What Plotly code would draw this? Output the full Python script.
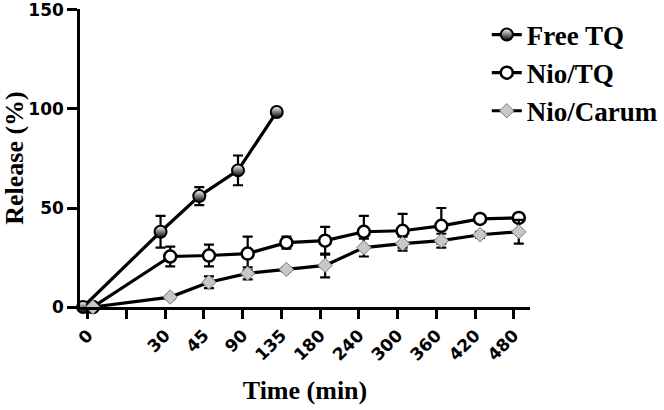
import plotly.graph_objects as go

times = ["0", "30", "45", "90", "135", "180", "240", "300", "360", "420", "480"]

free_tq = [0, 38, 56, 69, 98.5]
free_tq_err = [0, 8, 4.5, 7.5, 1]

nio_tq = [0, 25.5, 26, 27, 32.5, 33.5, 38, 38.5, 41, 44.5, 45]
nio_tq_err = [0, 5, 5.5, 8.5, 3, 7, 8, 8.5, 9, 1.5, 2]

nio_carum = [0, 5, 12.5, 17, 19, 21, 30, 32, 33.5, 36.5, 38]
nio_carum_err = [0, 1, 3, 3, 1, 6, 4.5, 3.5, 3.5, 1.5, 6]

# category slots: an empty slot is left after the first time point
slots = [0] + [i + 1 for i in range(1, len(times))]


def xs(n, dodge):
    return [s + dodge for s in slots[:n]]


fig = go.Figure()

fig.add_trace(go.Scatter(
    x=xs(len(free_tq), -0.12), y=free_tq, name="Free TQ",
    mode="lines+markers", cliponaxis=False,
    line=dict(color="black", width=3.2),
    marker=dict(symbol="circle", size=12, color="white",
                gradient=dict(type="vertical", color="black"),
                line=dict(color="black", width=2)),
    error_y=dict(type="data", array=free_tq_err, color="black", thickness=2.2, width=5),
))
fig.add_trace(go.Scatter(
    x=xs(len(nio_tq), 0.13), y=nio_tq, name="Nio/TQ",
    mode="lines+markers", cliponaxis=False,
    line=dict(color="black", width=3.2),
    marker=dict(symbol="circle", size=12, color="white",
                line=dict(color="black", width=2.5)),
    error_y=dict(type="data", array=nio_tq_err, color="black", thickness=2.2, width=5),
))
fig.add_trace(go.Scatter(
    x=xs(len(nio_carum), 0.13), y=nio_carum, name="Nio/Carum",
    mode="lines+markers", cliponaxis=False,
    line=dict(color="black", width=3.2),
    marker=dict(symbol="diamond", size=11, color="#c8c8c8",
                line=dict(color="#777777", width=1)),
    error_y=dict(type="data", array=nio_carum_err, color="black", thickness=2.2, width=5),
))

tick_font = dict(family="DejaVu Sans", size=17, color="black", weight="bold")
title_font = dict(family="Liberation Serif", size=26, color="black", weight="bold")

fig.update_layout(
    width=664, height=410,
    margin=dict(l=80, r=134, t=9, b=103, autoexpand=False),
    paper_bgcolor="white", plot_bgcolor="white",
    showlegend=True,
    legend=dict(
        x=0.904, y=0.995, xanchor="left", yanchor="top",
        font=dict(family="Liberation Serif", size=27, color="black", weight="bold"),
        bgcolor="rgba(0,0,0,0)", itemwidth=30,
    ),
    xaxis=dict(
        range=[-0.2, 11.42], automargin=False,
        tickmode="array", tickvals=[0, 1] + slots[1:], ticktext=["0", ""] + times[1:],
        tickangle=-45, tickfont=tick_font,
        ticks="outside", ticklen=9, tickwidth=2.5, tickcolor="black",
        showline=True, linecolor="black", linewidth=2.5,
        showgrid=False, zeroline=False,
        title=dict(text="Time (min)", font=title_font, standoff=18),
    ),
    yaxis=dict(
        range=[0, 150.5], automargin=False,
        tickmode="array", tickvals=[0, 50, 100, 150],
        tickfont=tick_font, ticklabeloverflow="allow",
        ticks="outside", ticklen=10, tickwidth=2.5, tickcolor="black",
        showline=True, linecolor="black", linewidth=2.5,
        showgrid=False, zeroline=False,
        title=dict(text="Release (%)", font=title_font, standoff=8),
    ),
)

fig.write_html("out.html", config={"displayModeBar": False},
               post_script="document.body.style.margin='0';")
